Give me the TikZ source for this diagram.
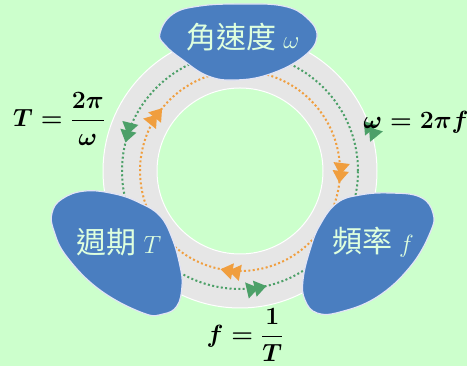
\documentclass[tikz,border=0pt]{standalone}
\usepackage{fontspec}
\newfontfamily\cjkfont{Noto Sans CJK TC}
\usetikzlibrary{arrows.meta,decorations.markings}

\definecolor{bgGreen}{RGB}{204,255,204}
\definecolor{ringGray}{RGB}{230,230,230}
\definecolor{blobBlue}{RGB}{74,126,192}
\definecolor{blobEdge}{RGB}{226,228,246}
\definecolor{dotGreen}{RGB}{76,160,104}
\definecolor{dotOrange}{RGB}{240,158,62}
\definecolor{paleText}{RGB}{222,255,222}

\tikzset{dbl/.tip={Triangle[length=12pt,width=16pt,sep=-4pt] Triangle[length=12pt,width=16pt]}}

\begin{document}
\begin{tikzpicture}[x=1pt, y=1pt,
    blob/.style={fill=blobBlue, draw=blobEdge, line width=1.2pt},
    blobtext/.style={text=paleText, inner sep=0pt, font=\cjkfont\fontsize{30}{34}\selectfont},
    formula/.style={inner sep=0pt, font=\fontsize{23}{28}\selectfont\boldmath},
    flow/.style={line width=2pt, dash pattern=on 2pt off 2.4pt}]

    % Background
    \fill[bgGreen] (0,0) rectangle (467,366);
    \useasboundingbox (0,0) rectangle (467,366);

    % Center of the ring
    \coordinate (c) at (240,195);

    % Gray ring with white edges
    \fill[ringGray, even odd rule] (c) circle[radius=137] (c) circle[radius=83];
    \draw[white, line width=1pt] (c) circle[radius=137];
    \draw[white, line width=1pt] (c) circle[radius=83];

    % Green flow: counterclockwise
    \draw[flow, dotGreen, postaction={decorate}, decoration={markings,
        mark=at position 0.461 with {\arrow{dbl}},
        mark=at position 0.053 with {\arrow{dbl}},
        mark=at position 0.786 with {\arrow{dbl}}}] (c) circle[radius=118];

    % Orange flow: clockwise
    \draw[flow, dotOrange, postaction={decorate}, decoration={markings,
        mark=at position 0.392 with {\arrowreversed{dbl}},
        mark=at position 0.981 with {\arrowreversed{dbl}},
        mark=at position 0.719 with {\arrowreversed{dbl}}}] (c) circle[radius=100];

    % Blobs
    \draw[blob] plot[smooth cycle, tension=0.7] coordinates {
        (160,333) (173,352) (200,360) (240,362) (283,360) (307,348) (317,329)
        (303,309) (270,292) (236,286) (208,290) (183,306) (165,321)};
    \draw[blob] plot[smooth cycle, tension=0.7] coordinates {
        (52,153) (62,167) (85,175) (115,172) (140,163) (160,150) (172,128)
        (180,100) (182,80) (177,60) (163,52) (143,53) (100,76) (67,109) (54,135)};
    \draw[blob] plot[smooth cycle, tension=0.7] coordinates {
        (337,163) (360,171) (390,173) (420,169) (433,153) (430,133) (410,99)
        (377,69) (340,54) (317,53) (305,66) (303,86) (310,116) (320,141)};

    % Blob labels
    \node[blobtext] (omega) at (243,329) {角速度 $\omega$};
    \node[blobtext] (period) at (119,124) {週期 $T$};
    \node[blobtext] (freq) at (373,124) {頻率 $f$};

    % Relations
    \node[formula] (fT) at (59,247) {$\displaystyle T=\frac{2\pi}{\omega}$};
    \node[formula] (fw) at (416,244) {$\omega=2\pi f$};
    \node[formula] (ff) at (245,31) {$\displaystyle f=\frac{1}{T}$};
\end{tikzpicture}
\end{document}
